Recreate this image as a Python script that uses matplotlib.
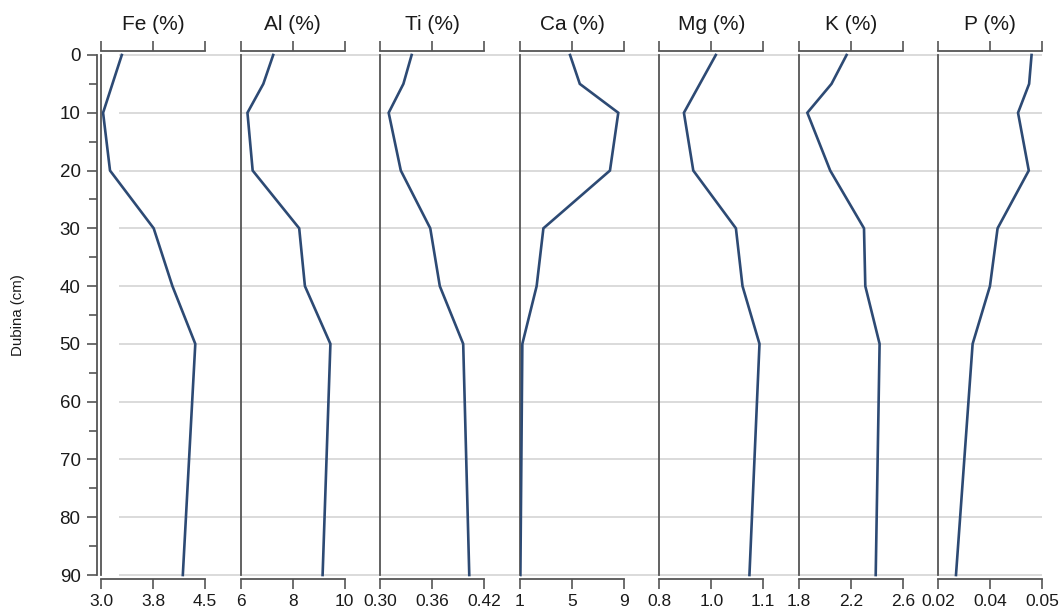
import matplotlib
matplotlib.use("Agg")
import matplotlib.pyplot as plt
from matplotlib.ticker import MultipleLocator

# ---------------- data ----------------
depth = [0, 5, 10, 20, 30, 40, 50, 90]

fe = [3.30, 3.165, 3.03, 3.13, 3.76, 4.03, 4.36, 4.18]
al = [7.25, 6.87, 6.26, 6.46, 8.25, 8.47, 9.45, 9.15]
ti = [0.3365, 0.327, 0.310, 0.324, 0.358, 0.369, 0.396, 0.403]
ca = [4.85, 5.6, 8.56, 7.92, 2.8, 2.28, 1.18, 1.03]
mg = [0.963, 0.917, 0.871, 0.898, 1.021, 1.040, 1.089, 1.06]
k = [2.166, 2.05, 1.864, 2.04, 2.30, 2.31, 2.42, 2.39]
p = [0.0469, 0.0462, 0.0430, 0.0461, 0.0371, 0.0349, 0.0299, 0.0251]

titles = ["Fe (%)", "Al (%)", "Ti (%)", "Ca (%)", "Mg (%)", "K (%)", "P (%)"]
series = [fe, al, ti, ca, mg, k, p]
x_ranges = [(3.0, 4.5), (6, 10), (0.30, 0.42), (1, 9), (0.8, 1.1), (1.8, 2.6), (0.02, 0.05)]
tick_labels = [["3.0", "3.8", "4.5"], ["6", "8", "10"], ["0.30", "0.36", "0.42"],
               ["1", "5", "9"], ["0.8", "1.0", "1.1"], ["1.8", "2.2", "2.6"],
               ["0.02", "0.04", "0.05"]]
y_ticks = [0, 10, 20, 30, 40, 50, 60, 70, 80, 90]
y_label = "Dubina (cm)"

# ---------------- layout ----------------
W, H = 1062, 611
plt.rcParams['font.family'] = ['Liberation Sans', 'DejaVu Sans']
fig = plt.figure(figsize=(W / 100, H / 100), dpi=100)
fig.patch.set_facecolor("white")

def fx(px):
    return px / W

TOP, BOT = 51, 579
PAD = 0.69
ylim = (90 + PAD, -PAD)
ax_b = 1 - BOT / H
ax_h = (BOT - TOP) / H

line_color = "#2d4a74"
spine_color = "#555555"
grid_color = "#d8d8d8"
text_color = "#1a1a1a"

# background axes for horizontal grid lines
bg = fig.add_axes([fx(119), ax_b, fx(1042 - 119), ax_h])
bg.set_ylim(*ylim)
bg.set_xlim(0, 1)
for yv in y_ticks:
    bg.axhline(yv, color=grid_color, lw=1.3, zorder=0)
bg.axis("off")

# left depth axis
dax = fig.add_axes([fx(96.5), ax_b, fx(1), ax_h])
dax.set_ylim(*ylim)
dax.patch.set_visible(False)
for s in ["top", "right", "bottom"]:
    dax.spines[s].set_visible(False)
dax.spines["left"].set_bounds(0, 90)
dax.spines["left"].set_color(spine_color)
dax.spines["left"].set_linewidth(1.3)
dax.set_xticks([])
dax.set_yticks(y_ticks)
dax.yaxis.set_minor_locator(MultipleLocator(5))
dax.tick_params(axis="y", which="major", length=7.5, width=1.2, color=spine_color,
                labelsize=13.5, labelcolor=text_color, pad=4)
dax.tick_params(axis="y", which="minor", length=5.5, width=1.2, color=spine_color)
fig.text(fx(18), 1 - 315 / H, y_label, rotation=90, ha="center", va="center",
         fontsize=10.8, color=text_color)

lefts = [101, 240.7, 380, 520, 659.3, 799, 938.3]
pw = 104

for i, (vals, (lo, hi), labs, title) in enumerate(zip(series, x_ranges, tick_labels, titles)):
    ax = fig.add_axes([fx(lefts[i]), ax_b, fx(pw), ax_h])
    ax.patch.set_visible(False)
    ax.plot(vals, depth, color=line_color, lw=1.9, solid_joinstyle="miter", zorder=3)
    ax.set_xlim(lo, hi)
    ax.set_ylim(*ylim)
    ax.spines["right"].set_visible(False)
    ax.spines["left"].set_bounds(0, 90)
    for s in ["left", "top", "bottom"]:
        ax.spines[s].set_color(spine_color)
        ax.spines[s].set_linewidth(1.3)
    ax.set_yticks([])
    ax.set_xticks([lo, (lo + hi) / 2, hi])
    ax.set_xticklabels(labs)
    ax.tick_params(axis="x", which="major", top=True, bottom=True, labeltop=False,
                   labelbottom=True, direction="out", length=7, width=1.2,
                   color=spine_color, labelsize=12.5, labelcolor=text_color, pad=3.5)
    fig.text(fx(lefts[i] + pw / 2), 1 - 24 / H, title, ha="center", va="center",
             fontsize=15, color=text_color)

fig.savefig("out.png", dpi=100, facecolor="white")
